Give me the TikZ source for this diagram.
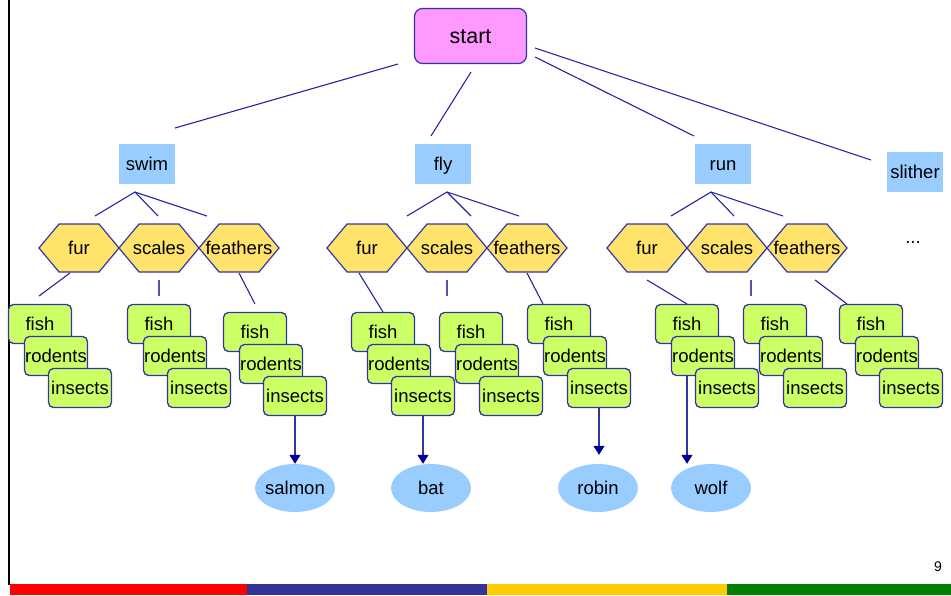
\documentclass[tikz,border=0pt]{standalone}
\usepackage{fontspec}
\setmainfont{Liberation Sans}
\usetikzlibrary{arrows.meta,shapes.geometric}
\definecolor{lnc}{HTML}{2424A0}
\definecolor{bdc}{HTML}{3333AA}
\definecolor{arc}{HTML}{000099}
\definecolor{pinkc}{HTML}{FF99FF}
\definecolor{bluec}{HTML}{99CCFF}
\definecolor{hexc}{HTML}{FFE36A}
\definecolor{greenc}{HTML}{CCFF66}
\definecolor{barred}{HTML}{FF0000}
\definecolor{barblue}{HTML}{333399}
\definecolor{baryel}{HTML}{FFCC00}
\definecolor{bargreen}{HTML}{008000}
\tikzset{
  txt/.style={font=\fontsize{18.5}{20}\selectfont, inner sep=0pt, text height=13pt, text depth=1pt},
  startbox/.style={txt, font=\fontsize{21.5}{24}\selectfont, text height=15pt, text depth=1pt, draw=bdc, line width=1.2pt, fill=pinkc, rounded corners=8pt, minimum width=112pt, minimum height=55pt},
  movebox/.style={txt, fill=bluec, minimum width=56pt, minimum height=40pt},
  hexstyle/.style={draw=bdc, line width=1.2pt, fill=hexc, line join=miter},
  food/.style={txt, draw=bdc, line width=1.3pt, fill=greenc, rounded corners=5pt, minimum width=63pt, minimum height=39pt},
  animal/.style={txt, ellipse, inner xsep=-10pt, fill=bluec, minimum width=80pt, minimum height=48pt},
  conn/.style={draw=lnc, line width=1.1pt},
  vconn/.style={draw=bdc!85!white, line width=1.8pt},
  arr/.style={draw=bdc, line width=1.3pt, -{Triangle[width=11pt,length=9pt,color=arc]}},
}
\newcommand\hexnode[4]{%
  \draw[hexstyle] (#2-40,#3) -- (#2-20,#3-24) -- (#2+20,#3-24) -- (#2+40,#3) -- (#2+20,#3+24) -- (#2-20,#3+24) -- cycle;
  \node[txt] (#1) at (#2,#3) {#4};}
\newcommand\trio[3]{%
  \node[food] (#1f) at (#2,#3) {fish};
  \node[food] (#1r) at ([shift={(16,32)}]#1f) {rodents};
  \node[food] (#1i) at ([shift={(24,32)}]#1r) {insects};}
\newcommand\conn[4][conn]{%
  \coordinate (#2a) at #3; \coordinate (#2b) at #4;
  \draw[#1] (#2a) -- (#2b);}
\begin{document}
\begin{tikzpicture}[x=1pt,y=-1pt]
\useasboundingbox (0,0) rectangle (951,595);
% frame line and colour bar
\fill[black] (7.5,0) rectangle (10,585);
\fill[barred] (10,584) rectangle (247,595);
\fill[barblue] (247,584) rectangle (487,595);
\fill[baryel] (487,584) rectangle (727,595);
\fill[bargreen] (727,584) rectangle (951,595);
\node[font=\fontsize{14}{16}\selectfont, inner sep=0pt] (pg) at (938,567) {9};

% top level
\node[startbox] (start) at (470.5,36) {start};
\node[movebox] (swim) at (147,164) {swim};
\node[movebox] (fly) at (443,164) {fly};
\node[movebox] (run) at (723,164) {run};
\node[movebox] (slither) at (915,172) {slither};

\conn{ssw}{(398,64)}{(175,128)}
\conn{sfl}{(471,72)}{(431,136)}
\conn{sru}{(535,57)}{(694,136)}
\conn{ssl}{(535,48)}{(871,160)}

% hexagons
\hexnode{swfur}{79}{248}{fur}
\hexnode{swsca}{159}{248}{scales}
\hexnode{swfea}{239}{248}{feathers}
\hexnode{flfur}{367}{248}{fur}
\hexnode{flsca}{447}{248}{scales}
\hexnode{flfea}{527}{248}{feathers}
\hexnode{rufur}{647}{248}{fur}
\hexnode{rusca}{727}{248}{scales}
\hexnode{rufea}{807}{248}{feathers}
\node[font=\fontsize{18.5}{20}\selectfont, inner sep=0pt] (dots) at (913,243) {...};

\conn{swa}{(135,192)}{(95,216)}
\conn{swb}{(135,192)}{(158,216)}
\conn{swc}{(135,192)}{(207,216)}
\conn{fla}{(447,192)}{(407,216)}
\conn{flb}{(447,192)}{(471,216)}
\conn{flc}{(447,192)}{(519,216)}
\conn{rua}{(711,192)}{(671,216)}
\conn{rub}{(711,192)}{(734,216)}
\conn{ruc}{(711,192)}{(783,216)}

% hex to food
\conn{hswa}{(70,273)}{(39,296)}
\conn[vconn]{hswb}{(159,280)}{(159,296)}
\conn{hswc}{(239,273)}{(255,304)}
\conn{hfla}{(359,273)}{(383,312)}
\conn[vconn]{hflb}{(447,280)}{(447,296)}
\conn{hflc}{(527,273)}{(543,304)}
\conn{hrua}{(647,280)}{(687,304)}
\conn[vconn]{hrub}{(751,280)}{(751,296)}
\conn{hruc}{(815,280)}{(847,304)}

% food stacks
\trio{A}{40}{324}
\trio{B}{159}{324}
\trio{C}{255}{332}
\trio{D}{383}{332}
\trio{E}{471}{332}
\trio{F}{559}{324}
\trio{G}{687}{324}
\trio{H}{775}{324}
\trio{I}{871}{324}

% animals
\node[animal] (salmon) at (295,488) {salmon};
\node[animal] (bat) at (431,488) {bat};
\node[animal] (robin) at (598,488) {robin};
\node[animal] (wolf) at (711,488) {wolf};

\draw[arr] (Ci.south) -- (Ci.south |- salmon.north);
\draw[arr] (Di.south) -- (Di.south |- bat.north);
\draw[arr, shorten >=9pt] (Fi.south) -- (Fi.south |- robin.north);
\draw[arr] (Gf.center |- Gr.south) -- (Gf.center |- wolf.north);
\end{tikzpicture}
\end{document}
